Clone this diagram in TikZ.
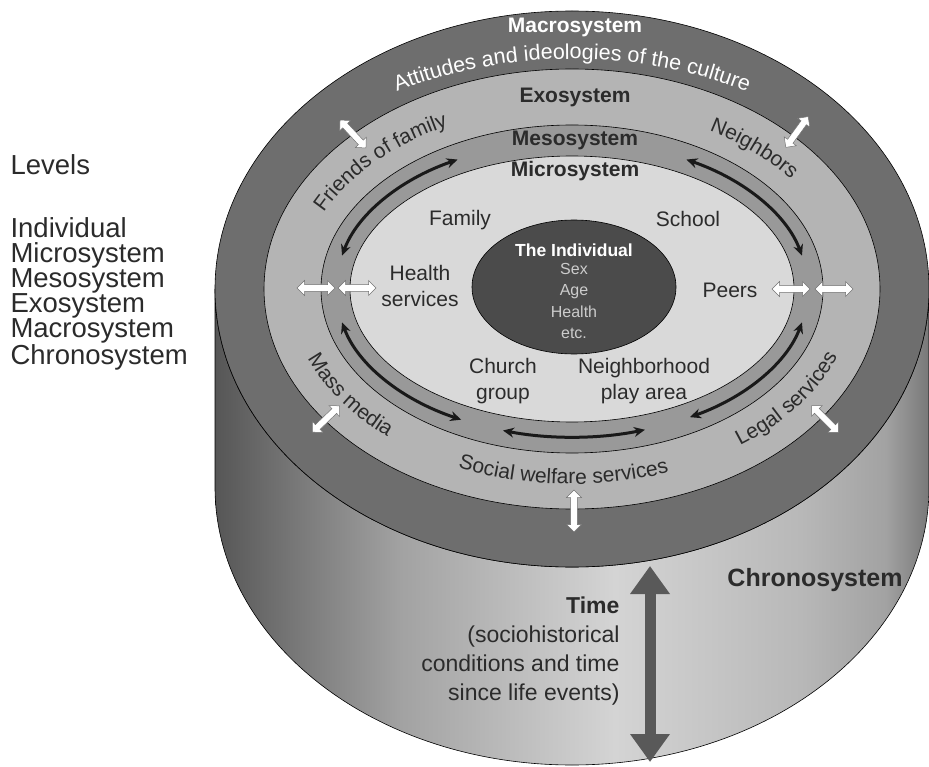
\documentclass[tikz,border=0pt]{standalone}
\usepackage{fontspec}
\setmainfont{Liberation Sans}
\usetikzlibrary{arrows.meta,shapes.arrows,decorations.text,positioning}

\definecolor{macrogray}{HTML}{6E6E6E}
\definecolor{exogray}{HTML}{B4B4B4}
\definecolor{mesogray}{HTML}{999999}
\definecolor{microgray}{HTML}{D9D9D9}
\definecolor{indgray}{HTML}{4B4B4B}
\definecolor{textgray}{HTML}{2B2B2B}
\definecolor{chronogray}{HTML}{595959}
\definecolor{sideA}{HTML}{565656}
\definecolor{sideB}{HTML}{7A7A7A}
\definecolor{sideC}{HTML}{A2A2A2}
\definecolor{sideD}{HTML}{D4D4D4}
\definecolor{sideE}{HTML}{B8B8B8}
\definecolor{sideF}{HTML}{A2A2A2}
\definecolor{sideG}{HTML}{787878}

\pgfdeclarehorizontalshading{cylside}{100bp}{color(0bp)=(sideA); color(25bp)=(sideA); color(31bp)=(sideB); color(38bp)=(sideC); color(53bp)=(sideD); color(66bp)=(sideE); color(72bp)=(sideF); color(75bp)=(sideG); color(100bp)=(sideG)}

\begin{document}
\begin{tikzpicture}[x=1pt,y=1pt,
  lvl/.style={font=\fontsize{21}{26}\selectfont, text=textgray, align=center},
  ttl/.style={font=\fontsize{21}{21}\selectfont\bfseries, text=textgray},
  ringtext/.style={decorate, decoration={text along path, text align=center, text={|\fontsize{21}{21}\selectfont\color{textgray}|#1}}},
  wharrow/.style={double arrow, draw=black!55, fill=white, line width=0.5pt, minimum height=38pt, minimum width=15pt, inner sep=2.8pt, double arrow head extend=3.8pt},
  mesoarrow/.style={line width=3pt, draw=black!90, {Stealth[length=11pt,width=10pt]}-{Stealth[length=11pt,width=10pt]}},
  chronoarrow/.style={line width=11pt, draw=chronogray, {Triangle[width=38pt,length=28pt]}-{Triangle[width=38pt,length=28pt]}}
]
\useasboundingbox (0,0) rectangle (929,-767);
\coordinate (c) at (572,-289);

% cylinder side
\path[shading=cylside, draw=black, line width=0.6pt] (215,-289) -- (215,-487)
  arc[start angle=180, end angle=360, x radius=357, y radius=278] -- (929,-289)
  arc[start angle=0, end angle=-180, x radius=357, y radius=278] -- cycle;

% rings of the top
\filldraw[fill=macrogray, line width=0.6pt] (c) ellipse[x radius=357, y radius=278];
\filldraw[fill=exogray, line width=0.6pt] (c) ellipse[x radius=308, y radius=220];
\filldraw[fill=mesogray, line width=0.6pt] (c) ellipse[x radius=251, y radius=164];
\filldraw[fill=microgray, line width=0.6pt] (c) ellipse[x radius=222, y radius=133];
\filldraw[fill=indgray, line width=0.6pt] (574,-287) ellipse[x radius=102, y radius=67];

% curved texts
\path[decorate, decoration={text along path, text align=center,
  text={|\fontsize{21.5}{21.5}\selectfont\color{white}|Attitudes and ideologies of the culture}}]
  (c) ++(140:340 and 230) arc[start angle=140, end angle=40, x radius=340, y radius=230];
\path[ringtext={Friends of family}] (c) ++(162:273 and 183) arc[start angle=162, end angle=112, x radius=273, y radius=183];
\path[ringtext={Neighbors}] (c) ++(70:273 and 183) arc[start angle=70, end angle=24, x radius=273, y radius=183];
\path[ringtext={Mass media}] (c) ++(190:283 and 195) arc[start angle=190, end angle=238, x radius=283, y radius=195];
\path[ringtext={Social welfare services}] (c) ++(232:283 and 195) arc[start angle=232, end angle=304, x radius=283, y radius=195];
\path[ringtext={Legal services}] (c) ++(300:283 and 195) arc[start angle=300, end angle=348, x radius=283, y radius=195];

% mesosystem arrows
\draw[mesoarrow] (c) ++(167:236 and 148) arc[start angle=167, end angle=119, x radius=236, y radius=148];
\draw[mesoarrow] (c) ++(61:236 and 148) arc[start angle=61, end angle=13, x radius=236, y radius=148];
\draw[mesoarrow] (c) ++(193:236 and 148) arc[start angle=193, end angle=242, x radius=236, y radius=148];
\draw[mesoarrow] (c) ++(253:236 and 148) arc[start angle=253, end angle=288, x radius=236, y radius=148];
\draw[mesoarrow] (c) ++(300:236 and 148) arc[start angle=300, end angle=347, x radius=236, y radius=148];

% white arrows across the borders
\node[wharrow] (wl1) at (316,-288) {};
\node[wharrow] (wl2) at (357,-288) {};
\node[wharrow] (wr1) at (791,-289) {};
\node[wharrow] (wr2) at (834,-289) {};
\node[wharrow, rotate=-47] (wtl) at (353,-134) {};
\node[wharrow, rotate=54] (wtr) at (797,-132) {};
\node[wharrow, rotate=44] (wbl) at (326,-419) {};
\node[wharrow, rotate=-45] (wbr) at (825,-419) {};
\node[wharrow, rotate=90, minimum height=42pt] (wb) at (574,-511) {};

% chronosystem arrow
\coordinate (chtop) at (650,-566);
\coordinate (chbot) at (650,-762);
\draw[chronoarrow] (chtop) -- (chbot);

% titles
\node[ttl, text=white] (macro) at (575,-27) {Macrosystem};
\node[ttl] (exo) at (575,-97) {Exosystem};
\node[ttl] (meso) at (575,-140) {Mesosystem};
\node[ttl] (micro) at (575,-171) {Microsystem};

% microsystem members
\node[lvl] (family) at (460,-220) {Family};
\node[lvl] (school) at (688,-219) {School};
\node[lvl] (health) at (420,-286) {Health\\services};
\node[lvl] (peers) at (730,-290) {Peers};
\node[lvl] (church) at (503,-381) {Church\\group};
\node[lvl] (play) at (644,-381) {Neighborhood\\play area};

% the individual
\node[font=\fontsize{17.5}{17.5}\selectfont\bfseries, text=white] (indiv) at (574,-250) {The Individual};
\node[font=\fontsize{16}{21.3}\selectfont, text=black!20, align=center] (traits) at (574,-301) {Sex\\Age\\Health\\etc.};

% chronosystem
\node[font=\fontsize{25}{25}\selectfont\bfseries, text=textgray] (chrono) at (815,-580) {Chronosystem};
\node[font=\fontsize{23}{29}\selectfont, text=textgray, align=right, anchor=east] (time) at (623,-651)
  {\textbf{Time}\\(sociohistorical\\conditions and time\\since life events)};

% levels list
\node[font=\fontsize{27.5}{25}\selectfont, text=textgray, anchor=west] (levels) at (7,-165) {Levels};
\node[font=\fontsize{27.5}{25}\selectfont, text=textgray, anchor=west, align=left] (list) at (7,-294)
  {Individual\\Microsystem\\Mesosystem\\Exosystem\\Macrosystem\\Chronosystem};
\end{tikzpicture}
\end{document}
